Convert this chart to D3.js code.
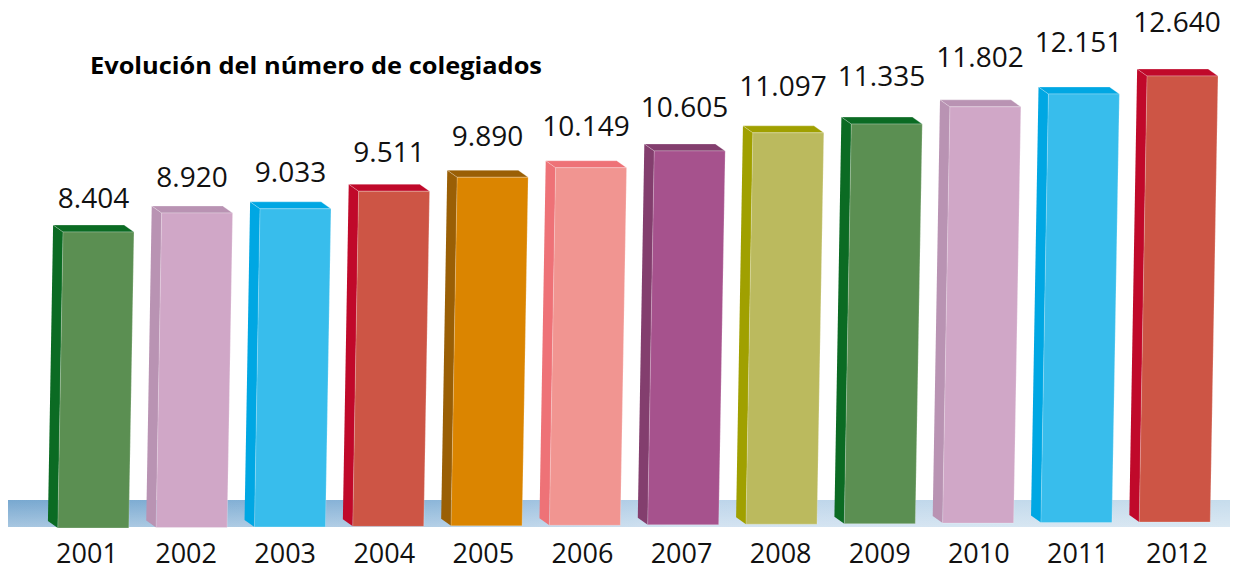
<!DOCTYPE html>
<html>
<head>
<meta charset="utf-8">
<script src="https://cdn.jsdelivr.net/npm/d3@7"></script>
<style>
  body { margin: 0; background: #fff; }
  svg { display: block; font-family: "Open Sans", sans-serif; }
</style>
</head>
<body>
<svg width="1244" height="571"></svg>
<script>
var years = ["2001", "2002", "2003", "2004", "2005", "2006", "2007", "2008", "2009", "2010", "2011", "2012"];
var values = [8404, 8920, 9033, 9511, 9890, 10149, 10605, 11097, 11335, 11802, 12151, 12640];
var valueLabels = ["8.404", "8.920", "9.033", "9.511", "9.890", "10.149", "10.605", "11.097", "11.335", "11.802", "12.151", "12.640"];
var frontColors = ["#5b8f52", "#d0a7c7", "#38bdec", "#cd5545", "#db8500", "#f19591", "#a6528d", "#bbba5e", "#5b8f52", "#d0a7c7", "#38bdec", "#cd5545"];
var sideColors = ["#0b6b23", "#b993b3", "#00a7e3", "#c0092a", "#9a5f05", "#ee7277", "#833e6e", "#a0a000", "#0b6b23", "#b993b3", "#00a7e3", "#c0092a"];
var title = "Evolución del número de colegiados";

var svg = d3.select("svg"),
    width = +svg.attr("width"),
    height = +svg.attr("height");

var barW = 71, depthX = 10, depthY = 7;
var lean = 0.0175, leanRef = 300;

var x = d3.scaleBand()
    .domain(years)
    .range([61.8, 61.8 + 98.3 * 12])
    .paddingInner(0)
    .align(0);

var y = d3.scaleLinear()
    .domain([0, 14000])
    .range([541.5, 25.9]);

// bottoms of the bars drift up slightly to the right
var base = d3.scaleLinear()
    .domain([0, years.length - 1])
    .range([528, 522]);

// labels sit on their own scales (they don't follow the bars exactly)
var labelX = d3.scalePoint().domain(years).range([93.5, 1177]);
var labelY = d3.scaleLinear().domain([0, 14000]).range([557.9, -24.5]);
var yearX = d3.scalePoint().domain(years).range([87, 1177]);

var defs = svg.append("defs");
var grad = defs.append("linearGradient")
    .attr("id", "floor")
    .attr("x1", "0%").attr("x2", "100%")
    .attr("y1", "0%").attr("y2", "0%");
grad.append("stop").attr("offset", "0%").attr("stop-color", "#78a8d0");
grad.append("stop").attr("offset", "35%").attr("stop-color", "#8cb6d9");
grad.append("stop").attr("offset", "55%").attr("stop-color", "#bcd4ea");
grad.append("stop").attr("offset", "100%").attr("stop-color", "#c6dcec");

var shine = defs.append("linearGradient")
    .attr("id", "floorShine")
    .attr("x1", "0%").attr("x2", "0%")
    .attr("y1", "0%").attr("y2", "100%");
shine.append("stop").attr("offset", "0%").attr("stop-color", "#fff").attr("stop-opacity", 0);
shine.append("stop").attr("offset", "100%").attr("stop-color", "#fff").attr("stop-opacity", 0.35);

svg.append("rect")
    .attr("x", 8).attr("y", 500)
    .attr("width", 1222).attr("height", 27)
    .attr("fill", "url(#floor)");
svg.append("rect")
    .attr("x", 8).attr("y", 500)
    .attr("width", 1222).attr("height", 27)
    .attr("fill", "url(#floorShine)");

var bars = svg.append("g")
    .attr("class", "bars")
    .attr("transform", "translate(" + (lean * leanRef) + ",0) skewX(" + (-Math.atan(lean) * 180 / Math.PI) + ")");

var bar = bars.selectAll("g")
    .data(values)
    .enter().append("g");

function pts(a) {
  return a.map(function(p) { return p.join(","); }).join(" ");
}

bar.append("polygon")
    .attr("points", function(d, i) {
      var x0 = x(years[i]), t = y(d), b = base(i);
      return pts([[x0, t], [x0 - depthX, t - depthY], [x0 - depthX, b - depthY], [x0, b]]);
    })
    .attr("fill", function(d, i) { return sideColors[i]; });

bar.append("polygon")
    .attr("points", function(d, i) {
      var x0 = x(years[i]), t = y(d);
      return pts([[x0, t], [x0 - depthX, t - depthY], [x0 + barW - depthX, t - depthY], [x0 + barW, t]]);
    })
    .attr("fill", function(d, i) { return sideColors[i]; })
    .attr("stroke", "rgba(255,255,255,0.35)")
    .attr("stroke-width", 0.8);

bar.append("polygon")
    .attr("points", function(d, i) {
      var x0 = x(years[i]), t = y(d), b = base(i);
      return pts([[x0, t], [x0 + barW, t], [x0 + barW, b], [x0, b]]);
    })
    .attr("fill", function(d, i) { return frontColors[i]; })
    .attr("stroke", "rgba(255,255,255,0.3)")
    .attr("stroke-width", 0.8);

svg.append("g")
    .attr("class", "values")
    .selectAll("text")
    .data(values)
    .enter().append("text")
    .attr("x", function(d, i) { return labelX(years[i]); })
    .attr("y", function(d) { return labelY(d); })
    .attr("text-anchor", "middle")
    .attr("font-size", 28)
    .attr("fill", "#111")
    .text(function(d, i) { return valueLabels[i]; });

svg.append("g")
    .attr("class", "years")
    .selectAll("text")
    .data(years)
    .enter().append("text")
    .attr("x", function(d) { return yearX(d); })
    .attr("y", 563)
    .attr("text-anchor", "middle")
    .attr("font-size", 27)
    .attr("fill", "#111")
    .text(function(d) { return d; });

svg.append("text")
    .attr("x", 90)
    .attr("y", 74)
    .attr("font-size", 23)
    .attr("font-weight", "bold")
    .attr("fill", "#000")
    .attr("textLength", 452)
    .attr("lengthAdjust", "spacingAndGlyphs")
    .text(title);
</script>
</body>
</html>
